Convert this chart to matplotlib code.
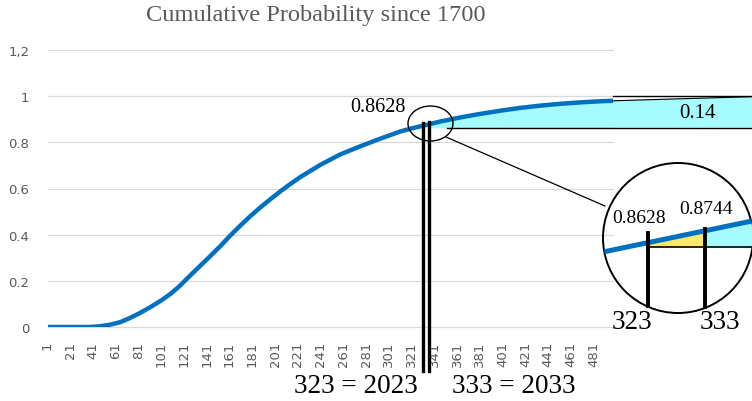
import numpy as np
import matplotlib
matplotlib.use("Agg")
import matplotlib.pyplot as plt
from matplotlib.patches import Ellipse, Circle, Polygon

# ---------------- data ----------------
categories = [1, 38, 47, 56, 65, 73, 82, 91, 100, 109, 117, 126, 135, 144, 153,
              161, 170, 179, 188, 197, 205, 214, 223, 241, 258, 276, 293, 311,
              323, 333, 346, 364, 381, 399, 416, 434, 452, 469, 487, 498]
cum_prob = [0.0, 0.0, 0.003, 0.01, 0.021, 0.038, 0.06, 0.085, 0.112, 0.143,
            0.177, 0.221, 0.264, 0.307, 0.351, 0.393, 0.437, 0.479, 0.518, 0.554,
            0.585, 0.618, 0.649, 0.703, 0.747, 0.783, 0.815, 0.847, 0.8628, 0.8744,
            0.89, 0.908, 0.923, 0.937, 0.949, 0.959, 0.967, 0.973, 0.978, 0.98]
tick_positions = list(range(1, 482, 20))
tick_labels = [str(t) for t in tick_positions]
ytick_values = [0, 0.2, 0.4, 0.6, 0.8, 1.0, 1.2]
ytick_labels = ["0", "0.2", "0.4", "0.6", "0.8", "1", "1,2"]
title = "Cumulative Probability since 1700"
p_2023 = 0.8628
p_2033 = 0.8744
remaining = 0.14
label_2023 = "323 = 2023"
label_2033 = "333 = 2033"

# ---------------- figure ----------------
W, H = 752, 402
fig = plt.figure(figsize=(W / 100, H / 100), dpi=100)
L, R, T, B = 47.5, 613, 51, 328
ax = fig.add_axes([L / W, (H - B) / H, (R - L) / W, (B - T) / H])
ov = fig.add_axes([0, 0, 1, 1], zorder=5)
ov.set_xlim(0, W)
ov.set_ylim(H, 0)
ov.axis("off")
ov.patch.set_alpha(0)

serif = "Liberation Serif"
blue = "#0070C0"
cyan = "#A6FCFC"
yellow = "#FFE86A"
gray = "#595959"

ax.set_xlim(1, 498)
ax.set_ylim(0, 1.2)
for s in ax.spines.values():
    s.set_visible(False)
ax.set_yticks(ytick_values)
ax.set_yticklabels(ytick_labels)
ax.set_xticks(tick_positions)
ax.set_xticklabels(tick_labels, rotation=90)
ax.tick_params(axis="both", length=0, colors=gray, labelsize=9.5)
ax.tick_params(axis="x", pad=10)
ax.tick_params(axis="y", pad=13)
ax.grid(axis="y", color="#D9D9D9", lw=0.9)
ax.set_axisbelow(True)
for gl in ax.get_ygridlines():
    gl.set_clip_on(False)

# cyan region between 2033 and the end of the curve
x_seg = [336] + [c for c in categories if c > 336]
y_seg = list(np.interp(x_seg, categories, cum_prob))
ax.fill_between(x_seg, p_2023, y_seg, color=cyan, lw=0, zorder=1)

ax.plot(categories, cum_prob, color=blue, lw=3.2, zorder=3,
        solid_capstyle="butt", solid_joinstyle="round")

# vertical markers
for xv in (331, 336):
    yv = float(np.interp(xv, categories, cum_prob)) + 0.012
    ax.plot([xv, xv], [yv, -0.19], color="black", lw=2.4, clip_on=False, zorder=4)


def d2p(x, y):
    return ov.transData.inverted().transform(ax.transData.transform((x, y)))


# ellipse around the point
ov.add_patch(Ellipse((430.5, 124.5), 45, 35, fill=False, ec="black", lw=1.0))
ov.text(378, 107, f"{p_2023:.4f}", family=serif, fontsize=14.5, ha="center", va="center")

# horizontal base line of the cyan region, extends to the right
y_base = d2p(0, p_2023)[1]
ov.plot([447, W], [y_base, y_base], color="black", lw=1.0)

# box continuing outside the plot
end_px = d2p(categories[-1], cum_prob[-1])
top_px = d2p(0, 1.0)[1]
ov.add_patch(Polygon([(end_px[0], end_px[1]), (W, top_px + 0.5), (W, y_base), (end_px[0], y_base)],
                     closed=True, fc=cyan, ec="none"))
ov.plot([end_px[0], W], [end_px[1], top_px + 0.5], color="black", lw=0.8)
ov.plot([end_px[0], W], [top_px, top_px], color="black", lw=1.0)
ov.text(697, 114, f"{remaining:.2f}", family=serif, fontsize=15, ha="center", va="center")

# connector to zoom circle
ov.plot([446, 605], [138, 207], color="black", lw=0.9)

# zoom circle
cx, cy, r = 678, 239, 75
circ = Circle((cx, cy), r, fill=False, ec="black", lw=1.4)
ov.add_patch(circ)
clip = Circle((cx, cy), r, transform=ov.transData)


def line_y(x):
    return 253 - (x - 603) * (31 / 149)


x1z, x2z = 648, 705
ypoly = Polygon([(x1z, line_y(x1z)), (x2z, line_y(x2z)), (x2z, 248), (x1z, 248)], fc=yellow, ec="none")
ov.add_patch(ypoly)
cpoly = Polygon([(x2z, line_y(x2z)), (760, line_y(760)), (760, 248), (x2z, 248)], fc=cyan, ec="none")
ov.add_patch(cpoly)
cpoly.set_clip_path(clip)
hl, = ov.plot([x1z, 760], [248, 248], color="black", lw=1.2)
hl.set_clip_path(clip)
bl, = ov.plot([590, 760], [line_y(590), line_y(760)], color=blue, lw=3.6)
bl.set_clip_path(clip)
ov.plot([x1z, x1z], [234, 307], color="black", lw=2.8)
ov.plot([x2z, x2z], [230, 308], color="black", lw=2.8)
ov.text(639, 219, f"{p_2023:.4f}", family=serif, fontsize=14, ha="center", va="center")
ov.text(705.5, 210, f"{p_2033:.4f}", family=serif, fontsize=14, ha="center", va="center")
ov.text(632, 323, "323", family=serif, fontsize=19.5, ha="center", va="center")
ov.text(720, 323, "333", family=serif, fontsize=19.5, ha="center", va="center")

# bottom labels
ov.text(355.5, 387, label_2023, family=serif, fontsize=19.5, ha="center", va="center")
ov.text(513.5, 387, label_2033, family=serif, fontsize=19.5, ha="center", va="center")

# title
ov.text(316, 16, title, family=serif, fontsize=17.6, color=gray, ha="center", va="center")

fig.savefig("out.png", dpi=100)
